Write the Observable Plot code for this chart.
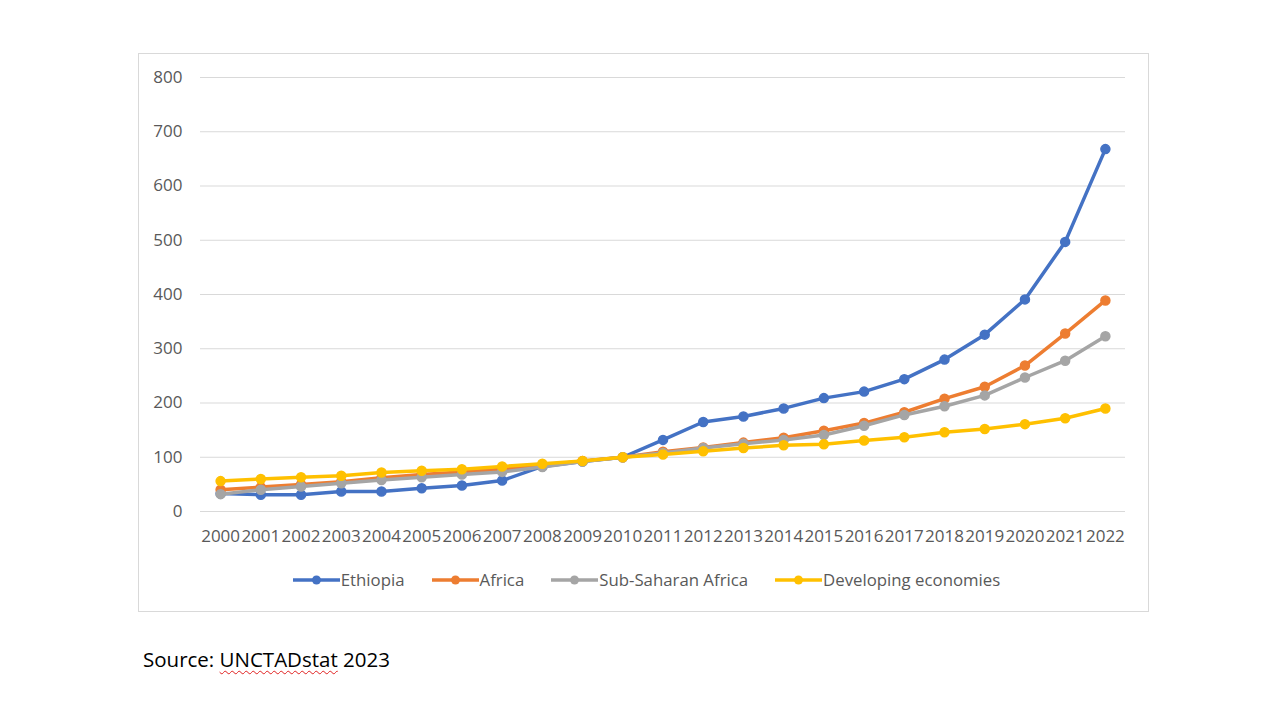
<!DOCTYPE html>
<html>
<head>
<meta charset="utf-8">
<script src="https://cdn.jsdelivr.net/npm/d3@7"></script>
<script src="https://cdn.jsdelivr.net/npm/@observablehq/plot@0.6"></script>
<style>
  html, body { margin: 0; padding: 0; background: #fff; }
  body { width: 1280px; height: 720px; position: relative; overflow: hidden; font-family: "Open Sans", sans-serif; }
  #box { position: absolute; left: 138px; top: 53px; width: 1009px; height: 557px; border: 1px solid #d9d9d9; background: #fff; }
  #chart { position: absolute; left: 0; top: 0; }
  #legend { position: absolute; left: 0; right: 0; top: 514px; display: flex; justify-content: center; align-items: center; gap: 27px; font-size: 16.8px; color: #595959; padding-left: 6px; }
  .item { display: flex; align-items: center; }
  .item svg { margin-right: 1px; }
  #source { position: absolute; left: 143px; top: 645px; font-size: 20.5px; color: #000; }
  #source .sp { text-decoration: underline wavy #e02020; text-decoration-thickness: 1px; text-underline-offset: 3px; }
</style>
</head>
<body>
<div id="box">
  <div id="chart"></div>
  <div id="legend"></div>
</div>
<div id="source">Source: <span class="sp">UNCTADstat</span> 2023</div>
<script>
const years = [2000,2001,2002,2003,2004,2005,2006,2007,2008,2009,2010,2011,2012,2013,2014,2015,2016,2017,2018,2019,2020,2021,2022];
const seriesNames = ["Ethiopia", "Africa", "Sub-Saharan Africa", "Developing economies"];
const seriesColors = ["#4472C4", "#ED7D31", "#A5A5A5", "#FFC000"];
const ethiopia   = [33, 31, 31, 37, 37, 43, 48, 57, 83, 92, 100, 132, 165, 175, 190, 209, 221, 244, 280, 326, 391, 497, 668];
const africa     = [40, 45, 50, 55, 62, 68, 73, 78, 85, 93, 100, 110, 118, 127, 136, 149, 163, 183, 208, 230, 269, 328, 389];
const subSaharan = [32, 40, 46, 52, 58, 63, 68, 73, 82, 92, 100, 108, 117, 125, 132, 141, 158, 178, 194, 214, 247, 278, 323];
const developing = [56, 60, 63, 66, 72, 75, 78, 83, 88, 93, 100, 105, 111, 117, 122, 124, 131, 137, 146, 152, 161, 172, 190];
const yTicks = [0, 100, 200, 300, 400, 500, 600, 700, 800];

const seriesValues = [ethiopia, africa, subSaharan, developing];
const data = seriesNames.flatMap((name, i) => years.map((year, j) => ({series: name, year, value: seriesValues[i][j]})));

const marks = [
  Plot.gridY(yTicks, {stroke: "#d9d9d9", strokeOpacity: 1, strokeWidth: 1}),
  Plot.axisY(yTicks, {tickSize: 0, tickPadding: 18, fontSize: 17, label: null}),
  Plot.axisX(years, {tickSize: 0, tickPadding: 18, fontSize: 17, label: null, tickFormat: d => String(d)})
];
seriesNames.forEach(name => {
  const sub = data.filter(d => d.series === name);
  marks.push(Plot.line(sub, {x: "year", y: "value", stroke: "series", strokeWidth: 3.5}));
  marks.push(Plot.dot(sub, {x: "year", y: "value", fill: "series", stroke: "series", r: 4.5}));
});

const chart = Plot.plot({
  width: 1009,
  height: 497,
  marginLeft: 61,
  marginRight: 23,
  marginTop: 23,
  marginBottom: 40,
  x: {domain: [1999.5, 2022.5]},
  y: {domain: [0, 800]},
  color: {domain: seriesNames, range: seriesColors},
  style: {fontFamily: "Open Sans, sans-serif", color: "#595959", background: "transparent", overflow: "visible"},
  marks
});
document.getElementById("chart").appendChild(chart);

const legend = document.getElementById("legend");
seriesNames.forEach((name, i) => {
  const item = document.createElement("div");
  item.className = "item";
  item.innerHTML = `<svg width="47" height="12"><line x1="0" y1="6" x2="47" y2="6" stroke="${seriesColors[i]}" stroke-width="3.5"/><circle cx="23.5" cy="6" r="4.5" fill="${seriesColors[i]}"/></svg><span>${name}</span>`;
  legend.appendChild(item);
});
</script>
</body>
</html>
